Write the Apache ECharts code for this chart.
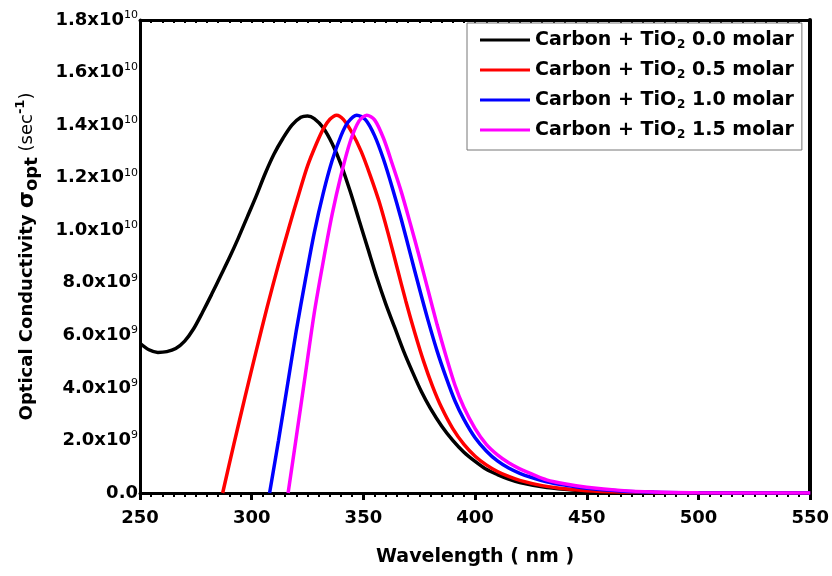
<!DOCTYPE html>
<html>
<head>
<meta charset="utf-8">
<script src="https://cdn.jsdelivr.net/npm/echarts@6/dist/echarts.min.js"></script>
<style>html,body{margin:0;padding:0;background:#fff}#c{width:832px;height:576px}</style>
</head>
<body>
<div id="c"></div>
<script>
// Values in units of 1e9 sec^-1
const SCALE = 1e9;
const concentrations = ['0.0', '0.5', '1.0', '1.5'];
const colors = ['#000000', '#ff0000', '#0000ff', '#ff00ff'];
const xTicks = [250, 300, 350, 400, 450, 500, 550];

const wlBlack  = [250, 254, 258, 262, 266, 270, 274, 278, 282, 286, 290, 294, 298, 302, 306, 310, 314, 318, 322, 325, 328, 332, 336, 340, 344, 348, 352, 356, 360, 364, 368, 372, 376, 380, 385, 390, 395, 400, 405, 410, 415, 420, 430, 440, 450, 465, 480, 500, 525, 550];
const valBlack = [5.70, 5.45, 5.35, 5.38, 5.50, 5.78, 6.25, 6.88, 7.55, 8.25, 8.95, 9.70, 10.50, 11.30, 12.15, 12.90, 13.50, 14.00, 14.30, 14.35, 14.25, 13.90, 13.30, 12.50, 11.50, 10.40, 9.30, 8.20, 7.20, 6.30, 5.40, 4.60, 3.85, 3.22, 2.55, 2.00, 1.55, 1.20, 0.90, 0.70, 0.53, 0.40, 0.24, 0.14, 0.08, 0.035, 0.015, 0.005, 0.0, 0.0];

const wlRed  = [287, 292, 297, 302, 307, 312, 317, 321, 325, 329, 332, 335, 338, 341, 345, 349, 353, 357, 361, 365, 369, 373, 377, 381, 385, 390, 395, 400, 405, 410, 415, 420, 430, 440, 450, 465, 480, 500, 525, 550];
const valRed = [0.0, 1.85, 3.65, 5.40, 7.10, 8.70, 10.20, 11.35, 12.45, 13.30, 13.85, 14.22, 14.38, 14.22, 13.70, 13.00, 12.10, 11.10, 9.90, 8.60, 7.30, 6.10, 5.00, 4.05, 3.25, 2.45, 1.85, 1.40, 1.07, 0.82, 0.63, 0.48, 0.28, 0.16, 0.09, 0.04, 0.015, 0.005, 0.0, 0.0];

const wlBlue  = [308, 312, 316, 320, 324, 328, 332, 336, 340, 343, 347, 351, 355, 359, 363, 367, 371, 375, 379, 383, 387, 391, 395, 400, 405, 410, 415, 420, 425, 432, 440, 450, 465, 480, 500, 525, 550];
const valBlue = [0.0, 2.0, 4.1, 6.2, 8.1, 9.9, 11.4, 12.65, 13.6, 14.1, 14.38, 14.2, 13.6, 12.7, 11.6, 10.4, 9.1, 7.8, 6.55, 5.4, 4.4, 3.5, 2.8, 2.1, 1.6, 1.22, 0.95, 0.75, 0.6, 0.43, 0.3, 0.18, 0.08, 0.03, 0.01, 0.0, 0.0];

const wlMag  = [316.3, 320, 324, 328, 332, 336, 340, 344, 348, 351.5, 355, 359, 363, 367, 371, 375, 379, 383, 387, 391, 395, 400, 405, 410, 415, 420, 426, 432, 440, 450, 465, 480, 500, 525, 550];
const valMag = [0.0, 2.15, 4.5, 6.85, 8.8, 10.6, 12.1, 13.35, 14.15, 14.38, 14.2, 13.5, 12.5, 11.45, 10.25, 9.0, 7.7, 6.4, 5.2, 4.1, 3.25, 2.45, 1.85, 1.45, 1.15, 0.92, 0.7, 0.5, 0.35, 0.22, 0.1, 0.04, 0.012, 0.0, 0.0];

const wls = [wlBlack, wlRed, wlBlue, wlMag];
const vals = [valBlack, valRed, valBlue, valMag];

const FONT = '"DejaVu Sans", Verdana, sans-serif';
const names = concentrations.map(c => 'Carbon + TiO2 ' + c + ' molar');

const series = names.map((n, i) => ({
  name: n,
  type: 'line',
  smooth: 0.3,
  showSymbol: false,
  symbol: 'none',
  lineStyle: { color: colors[i], width: 3.5 },
  itemStyle: { color: colors[i] },
  data: wls[i].map((w, j) => [w, vals[i][j] * SCALE]),
  z: 2 + i
}));

const chart = echarts.init(document.getElementById('c'), null, { renderer: 'canvas' });
chart.setOption({
  backgroundColor: '#ffffff',
  animation: false,
  grid: { left: 140, right: 21, top: 20, bottom: 83 },
  legend: {
    orient: 'vertical',
    left: 467,
    top: 23,
    padding: [6, 8, 9, 13],
    itemGap: 8,
    itemWidth: 50,
    itemHeight: 3,
    icon: 'rect',
    backgroundColor: '#ffffff',
    borderColor: '#777777',
    borderWidth: 1,
    data: names,
    formatter: function (n) {
      const idx = names.indexOf(n);
      return '{t|Carbon + TiO}{sb|2}{t| ' + concentrations[idx] + ' molar}';
    },
    textStyle: {
      rich: {
        t: { fontFamily: FONT, fontWeight: 'bold', fontSize: 19, color: '#000', lineHeight: 22 },
        sb: { fontFamily: FONT, fontWeight: 'bold', fontSize: 12, color: '#000', lineHeight: 22, padding: [10, 0, 0, 1] }
      }
    }
  },
  xAxis: [{
    type: 'value',
    min: 250, max: 550, interval: 50,
    position: 'bottom',
    name: 'Wavelength ( nm )',
    nameLocation: 'middle',
    nameGap: 55,
    nameTextStyle: { fontFamily: FONT, fontWeight: 'bold', fontSize: 19, color: '#000' },
    axisLine: { show: true, onZero: false, lineStyle: { color: '#000', width: 3 } },
    axisTick: { show: true, inside: false, length: 7, lineStyle: { color: '#000', width: 3 } },
    minorTick: { show: true, splitNumber: 10, length: 4, lineStyle: { color: '#000', width: 2 } },
    splitLine: { show: false },
    axisLabel: { margin: 16, fontFamily: FONT, fontWeight: 'bold', fontSize: 18, color: '#000',
      customValues: xTicks, formatter: v => String(v) }
  }, {
    type: 'value',
    min: 250, max: 550, interval: 50,
    position: 'top',
    axisLine: { show: true, onZero: false, lineStyle: { color: '#000', width: 3 } },
    axisTick: { show: true, inside: true, length: 3, lineStyle: { color: '#000', width: 2 } },
    minorTick: { show: true, splitNumber: 10, length: 3, lineStyle: { color: '#000', width: 2 } },
    splitLine: { show: false },
    axisLabel: { show: false }
  }],
  yAxis: [{
    type: 'value',
    min: 0, max: 1.8e10, interval: 2e9,
    position: 'left',
    name: '{a|Optical Conductivity }{g|σ}{sb|opt}{n| (sec}{sp|-1}{n|)}',
    nameLocation: 'middle',
    nameRotate: 90,
    nameGap: 100,
    nameTextStyle: {
      rich: {
        a: { fontFamily: FONT, fontWeight: 'bold', fontSize: 18, color: '#000', lineHeight: 26 },
        g: { fontFamily: FONT, fontWeight: 'bold', fontSize: 22, color: '#000', lineHeight: 26 },
        sb: { fontFamily: FONT, fontWeight: 'bold', fontSize: 18, color: '#000', lineHeight: 26, padding: [10, 0, 0, 0] },
        n: { fontFamily: FONT, fontWeight: 'normal', fontSize: 18, color: '#000', lineHeight: 26 },
        sp: { fontFamily: FONT, fontWeight: 'bold', fontSize: 13, color: '#000', lineHeight: 26, padding: [0, 0, 12, 0] }
      }
    },
    axisLine: { show: true, onZero: false, lineStyle: { color: '#000', width: 3 } },
    axisTick: { show: false },
    splitLine: { show: false },
    axisLabel: {
      margin: 2,
      formatter: function (v) {
        if (v === 0) return '{b|0.0}';
        const e = Math.floor(Math.log10(v) + 1e-9);
        const m = v / Math.pow(10, e);
        return '{b|' + m.toFixed(1) + 'x10}{s|' + e + '}';
      },
      rich: {
        b: { fontFamily: FONT, fontWeight: 'bold', fontSize: 18, color: '#000', lineHeight: 20 },
        s: { fontFamily: FONT, fontWeight: 'normal', fontSize: 11, color: '#000', lineHeight: 20, padding: [0, 0, 10, 0] }
      }
    }
  }, {
    type: 'value',
    min: 0, max: 1.8e10, interval: 2e9,
    position: 'right',
    axisLine: { show: true, onZero: false, lineStyle: { color: '#000', width: 4 } },
    axisTick: { show: false },
    splitLine: { show: false },
    axisLabel: { show: false }
  }],
  series: series
});
</script>
</body>
</html>
